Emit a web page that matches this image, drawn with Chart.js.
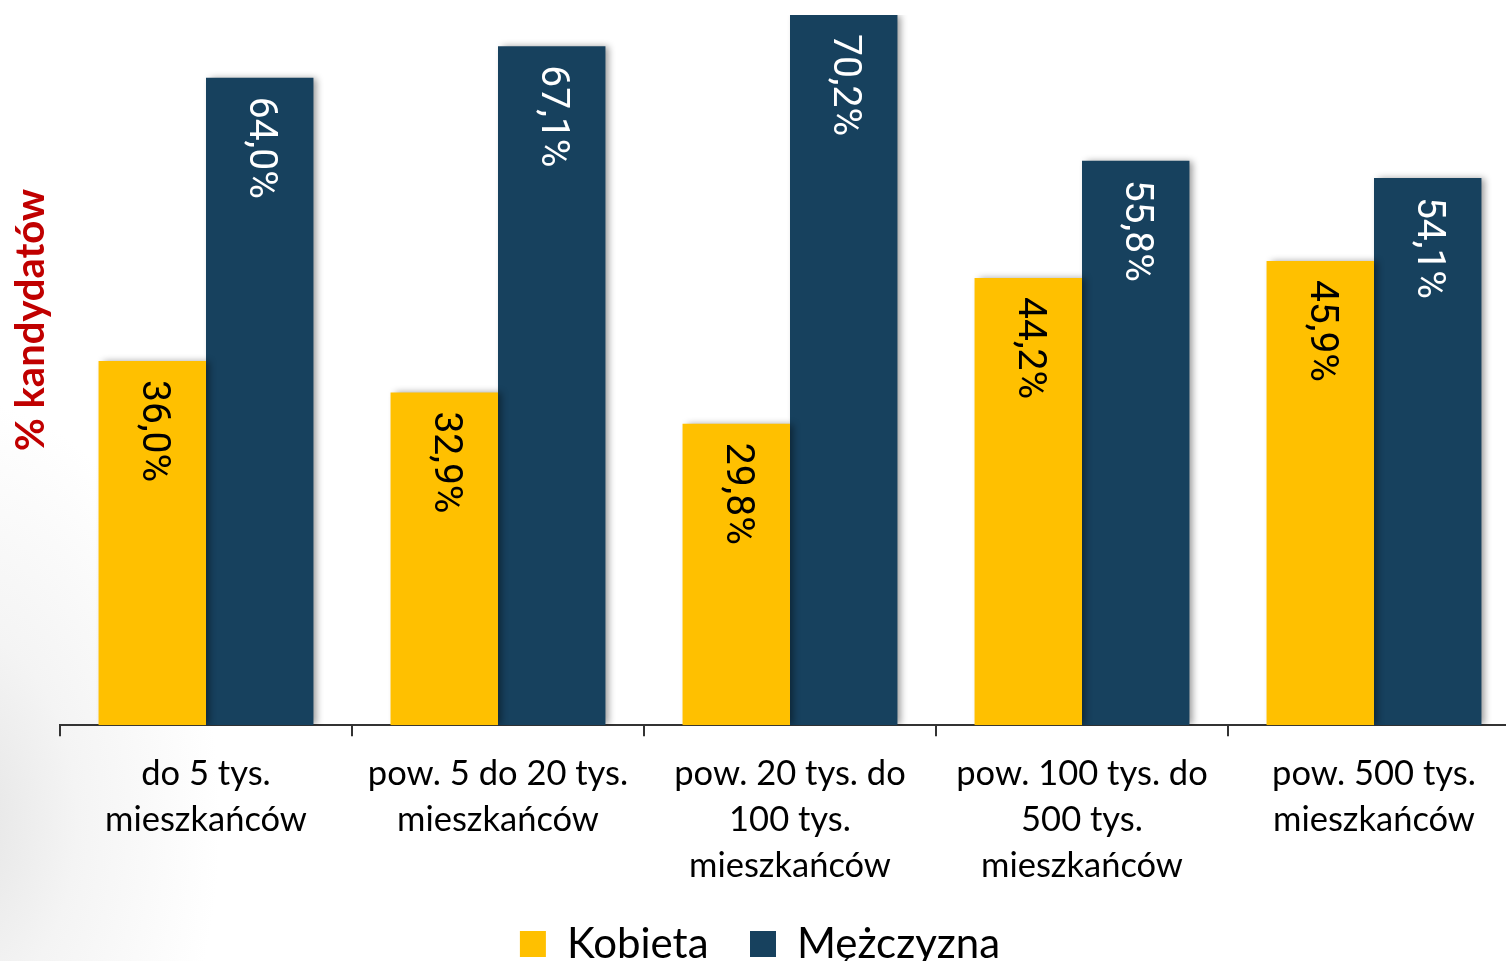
<!DOCTYPE html>
<html lang="pl">
<head>
  <meta charset="UTF-8" />
  <title>Kandydaci wg wielkości miejscowości</title>
  <script src="https://cdn.jsdelivr.net/npm/chart.js"></script>
  <style>
    html, body { margin: 0; padding: 0; overflow: hidden; }
    body {
      width: 1506px; height: 961px;
      background: radial-gradient(ellipse 260px 420px at -40px 820px, #e4e4e4 0%, #f4f4f4 45%, #ffffff 100%);
    }
    #wrap { position: relative; width: 1520px; height: 975px; }
  </style>
</head>
<body>
<div id="wrap"><canvas id="chart"></canvas></div>
<script>
const categories = [
  ['do 5 tys.', 'mieszkańców'],
  ['pow. 5 do 20 tys.', 'mieszkańców'],
  ['pow. 20 tys. do', '100 tys.', 'mieszkańców'],
  ['pow. 100 tys. do', '500 tys.', 'mieszkańców'],
  ['pow. 500 tys.', 'mieszkańców']
];
const kobieta = [36.0, 32.9, 29.8, 44.2, 45.9];
const mezczyzna = [64.0, 67.1, 70.2, 55.8, 54.1];
const seriesNames = ['Kobieta', 'Mężczyzna'];

const YELLOW = '#FFC000';
const NAVY = '#17415E';

// rotated value labels inside the bars
const barLabels = {
  id: 'barLabels',
  afterDatasetsDraw(chart) {
    const ctx = chart.ctx;
    chart.data.datasets.forEach((ds, i) => {
      chart.getDatasetMeta(i).data.forEach((bar, j) => {
        const txt = ds.data[j].toFixed(1).replace('.', ',') + '%';
        ctx.save();
        ctx.translate(bar.x, bar.y + 19);
        ctx.rotate(Math.PI / 2);
        ctx.font = '39px Roboto';
        ctx.fillStyle = i === 0 ? '#000' : '#fff';
        ctx.textAlign = 'left';
        ctx.textBaseline = 'middle';
        ctx.fillText(txt, 0, 0);
        ctx.restore();
      });
    });
  }
};

// soft shadow on the right of each bar
const barShadow = {
  id: 'barShadow',
  beforeDatasetsDraw(chart) {
    const ctx = chart.ctx;
    ctx.save();
    ctx.shadowColor = 'rgba(0,0,0,0.4)';
    ctx.shadowBlur = 7;
    ctx.shadowOffsetX = 4;
    ctx.shadowOffsetY = 0;
  },
  afterDatasetsDraw(chart) {
    chart.ctx.restore();
  }
};

// y axis title, drawn where the original has it
const yTitle = {
  id: 'yTitle',
  afterDraw(chart) {
    const ctx = chart.ctx;
    ctx.save();
    ctx.translate(31, 320);
    ctx.rotate(-Math.PI / 2);
    ctx.font = 'bold 40px Lato';
    ctx.fillStyle = '#C00000';
    ctx.textAlign = 'center';
    ctx.textBaseline = 'middle';
    ctx.fillText('% kandydatów', 0, 0);
    ctx.restore();
  }
};

new Chart(document.getElementById('chart'), {
  type: 'bar',
  data: {
    labels: categories,
    datasets: [
      { label: seriesNames[0], data: kobieta, backgroundColor: YELLOW },
      { label: seriesNames[1], data: mezczyzna, backgroundColor: NAVY }
    ]
  },
  options: {
    responsive: true,
    maintainAspectRatio: false,
    animation: false,
    layout: { padding: { left: 0, top: 15, right: 0, bottom: 0 } },
    datasets: { bar: { categoryPercentage: 0.736, barPercentage: 1.0 } },
    scales: {
      y: {
        min: 0, max: 70.2,
        grid: { display: false },
        border: { display: false },
        ticks: { display: false },
        afterFit(scale) { scale.width = 60; }
      },
      x: {
        grid: { drawOnChartArea: false, drawTicks: true, tickLength: 11, offset: true, color: '#333', lineWidth: 2 },
        border: { color: '#333', width: 2 },
        ticks: {
          color: '#000',
          font: { family: 'Lato', size: 34.5, lineHeight: 1.34 },
          padding: 14,
          maxRotation: 0,
          autoSkip: false
        }
      }
    },
    plugins: {
      legend: {
        position: 'bottom',
        labels: {
          color: '#000',
          font: { family: 'Lato', size: 42 },
          boxWidth: 26,
          boxHeight: 26,
          padding: 20,
          // widen the gap between the two entries
          generateLabels(chart) {
            const items = Chart.defaults.plugins.legend.labels.generateLabels(chart);
            items[0].text = items[0].text + '  ';
            return items;
          }
        }
      },
      tooltip: { enabled: false }
    }
  },
  plugins: [barShadow, barLabels, yTitle]
});
</script>
</body>
</html>
